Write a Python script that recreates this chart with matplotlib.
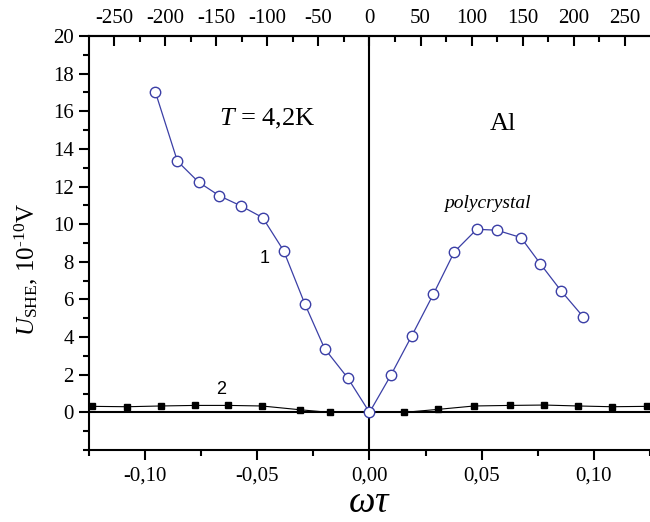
import matplotlib
matplotlib.use("Agg")
import matplotlib.pyplot as plt
from matplotlib.ticker import MultipleLocator, FuncFormatter

# Series 1: polycrystal (open circles)
x1 = [-0.0954, -0.0856, -0.0761, -0.0669, -0.0571, -0.0476, -0.0383, -0.0288, -0.0200, -0.0097,
      0.0, 0.0095, 0.0188, 0.0285, 0.0378, 0.0478, 0.0568, 0.0675, 0.0761, 0.0855, 0.0953]
y1 = [17.02, 13.35, 12.23, 11.51, 10.96, 10.35, 8.60, 5.76, 3.39, 1.83,
      0.0, 1.97, 4.06, 6.29, 8.53, 9.73, 9.68, 9.29, 7.90, 6.44, 5.07]

# Series 2: filled squares
x2 = [-0.1235, -0.1079, -0.0931, -0.0776, -0.0629, -0.0480, -0.0310, -0.0178, 0.0,
      0.0154, 0.0306, 0.0466, 0.0627, 0.0778, 0.0931, 0.1079, 0.1235]
y2 = [0.32, 0.30, 0.34, 0.37, 0.37, 0.34, 0.14, 0.0, 0.0,
      0.0, 0.16, 0.34, 0.37, 0.39, 0.34, 0.30, 0.32]

xticks_bottom = [-0.10, -0.05, 0.00, 0.05, 0.10]
xticks_top = [-250, -200, -150, -100, -50, 0, 50, 100, 150, 200, 250]
yticks = [0, 2, 4, 6, 8, 10, 12, 14, 16, 18, 20]

serif = ["Liberation Serif", "DejaVu Serif"]
plt.rcParams["font.family"] = serif
plt.rcParams["axes.unicode_minus"] = False
plt.rcParams["mathtext.fontset"] = "custom"
plt.rcParams["mathtext.rm"] = "Liberation Serif"
plt.rcParams["mathtext.it"] = "Liberation Serif:italic"

fig = plt.figure(figsize=(6.5, 5.22), dpi=100)
ax = fig.add_axes([0.1369, 0.1379, 0.8631, 0.7931])

ax.axhline(0, color="black", lw=1.5, zorder=1)
ax.axvline(0, color="black", lw=1.5, zorder=1)

ax.plot(x2, y2, color="black", lw=0.8, marker="s", ms=5, mfc="black", mec="black", zorder=3)
ax.plot(x1, y1, color="#3b3fa6", lw=0.9, marker="o", ms=7.5, mfc="white", mec="#3b3fa6",
        mew=1.0, zorder=4)

ax.set_xlim(-0.125, 0.125)
ax.set_ylim(-2, 20)

for s in ["left", "bottom", "top"]:
    ax.spines[s].set_linewidth(1.5)
ax.spines["right"].set_visible(False)

ax.set_xticks(xticks_bottom)
ax.xaxis.set_minor_locator(MultipleLocator(0.025))
ax.xaxis.set_major_formatter(FuncFormatter(lambda v, p: f"{v:.2f}".replace(".", ",").replace("-0,00", "0,00")))
ax.set_yticks(yticks)
ax.yaxis.set_minor_locator(MultipleLocator(1))
ax.tick_params(axis="both", which="major", direction="out", length=7, width=1.5, labelsize=15)
ax.tick_params(axis="both", which="minor", direction="out", length=4, width=1.5)
ax.tick_params(axis="x", pad=5)
ax.tick_params(axis="y", pad=4)

ax2 = ax.twiny()
ax2.set_xlim(-274.5, 274.5)
ax2.set_xticks(xticks_top)
ax2.xaxis.set_minor_locator(MultipleLocator(25))
ax2.tick_params(axis="x", which="major", direction="in", length=7, width=1.5, labelsize=15, pad=6)
ax2.tick_params(axis="x", which="minor", direction="in", length=4, width=1.5)
for s in ax2.spines.values():
    s.set_visible(False)
ax2.spines["top"].set_visible(True)
ax2.spines["top"].set_linewidth(1.5)

ax.set_xlabel(r"$\omega\tau$", fontsize=27)
ax.xaxis.set_label_coords(0.5692, 0.004, transform=fig.transFigure)
ax.xaxis.label.set_va("bottom")
ax.set_ylabel(r"$U_{\rm SHE}$, 10$^{\text{-}10}$V", fontsize=18)
ax.yaxis.set_label_coords(-0.112, 0.435, transform=ax.transAxes)
ax.yaxis.label.set_va("center")

ax.text(-0.0454, 15.6, r"$T$ = 4,2K", fontsize=19, ha="center", va="center")
ax.text(0.0594, 15.3, "Al", fontsize=19, ha="center", va="center")
ax.text(0.0525, 11.1, "polycrystal", fontsize=14, style="italic", ha="center", va="center")
ax.text(-0.0467, 8.2, "1", fontsize=13, family=["Liberation Sans"], ha="center", va="center")
ax.text(-0.0660, 1.2, "2", fontsize=13, family=["Liberation Sans"], ha="center", va="center")

fig.savefig("out.png", dpi=100)
